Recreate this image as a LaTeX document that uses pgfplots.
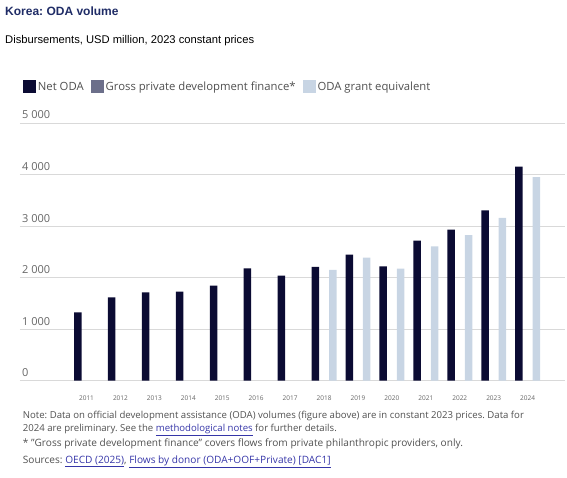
\documentclass[border=0pt]{standalone}
\usepackage{pgfplots}
\pgfplotsset{compat=1.18}
\usepackage{fontspec}
\setmainfont{Open Sans}
\newfontfamily\arialfont{Liberation Sans}
\frenchspacing

\definecolor{netc}{HTML}{0B0B33}
\definecolor{grossc}{HTML}{6C6F8A}
\definecolor{grantc}{HTML}{C8D5E4}
\definecolor{titlec}{HTML}{1F2C66}
\definecolor{gridc}{HTML}{D9D9D9}
\definecolor{tickc}{HTML}{666666}
\definecolor{notec}{HTML}{505050}
\definecolor{linkc}{HTML}{3535A8}

\newcommand{\lnk}[1]{\textcolor{linkc}{\underline{#1}}}

\begin{document}
\begin{tikzpicture}
\useasboundingbox (0,0) rectangle (567pt,478pt);

% titles
\node[anchor=base west, inner sep=0pt, text=titlec] at (5pt,462pt)
  {\arialfont\bfseries\fontsize{12}{14}\selectfont Korea: ODA volume};
\node[anchor=base west, inner sep=0pt] at (5pt,434.7pt)
  {\arialfont\fontsize{11.2}{13}\selectfont Disbursements, USD million, 2023 constant prices};

\begin{axis}[
    at={(20pt,97.3pt)}, anchor=south west,
    scale only axis,
    width=545pt, height=257.7pt,
    xmin=2009.04, xmax=2025.10,
    ymin=0, ymax=5000,
    axis line style={draw=none},
    major tick length=0pt,
    ybar, bar width=7.5pt,
    xtick={2011,...,2024},
    ytick={0,1000,2000,3000,4000,5000},
    ymajorgrids=true,
    grid style={draw=gridc, line width=0.8pt},
    /pgf/number format/assume math mode=true,
    xticklabel style={/pgf/number format/1000 sep={}, font=\fontsize{6.5}{8}\selectfont,
        text=tickc, anchor=base, yshift=-19.5pt},
    yticklabel style={/pgf/number format/1000 sep={\ }, font=\fontsize{11}{13}\selectfont,
        text=tickc, anchor=base west, inner sep=0pt, xshift=2pt, yshift=4pt},
    legend columns=-1,
    legend style={draw=none, at={(0.005,1.1397)}, anchor=west, inner xsep=0pt,
        font=\fontsize{11.3}{13}\selectfont, text=notec,
        /tikz/every even column/.append style={column sep=5pt}},
    legend image code/.code={\fill[#1] (0pt,-6.5pt) rectangle (13pt,6.5pt);},
]
\addplot[draw=none, fill=netc, bar shift=-8.7pt] coordinates {
    (2011,1325) (2012,1618) (2013,1713) (2014,1726) (2015,1847)
    (2016,2178) (2017,2038) (2018,2206) (2019,2445) (2020,2219)
    (2021,2720) (2022,2930) (2023,3303) (2024,4155)};
\addlegendentry{Net ODA}
\addlegendimage{draw=none, fill=grossc}
\addlegendentry{Gross private development finance*}
\addplot[draw=none, fill=grantc, bar shift=8.7pt] coordinates {
    (2018,2148) (2019,2387) (2020,2174) (2021,2606) (2022,2826)
    (2023,3161) (2024,3948)};
\addlegendentry{ODA grant equivalent}
\end{axis}

% notes
\begin{scope}[every node/.style={anchor=base west, inner sep=0pt, text=notec}]
\node[font=\fontsize{9.6}{11}\selectfont] at (22.7pt,59.7pt) {Note: Data on official development assistance (ODA) volumes (figure above) are in constant 2023 prices. Data for};
\node[font=\fontsize{9.6}{11}\selectfont] at (22.7pt,46.3pt) {2024 are preliminary. See the \lnk{methodological notes} for further details.};
\node[font=\fontsize{10.1}{12}\selectfont] at (22.7pt,31.3pt) {* "Gross private development finance" covers flows from private philanthropic providers, only.};
\node[font=\fontsize{10.1}{12}\selectfont] at (22.7pt,14.7pt) {Sources: \lnk{OECD (2025)}, \lnk{Flows by donor (ODA+OOF+Private) [DAC1]}};
\end{scope}
\end{tikzpicture}
\end{document}
